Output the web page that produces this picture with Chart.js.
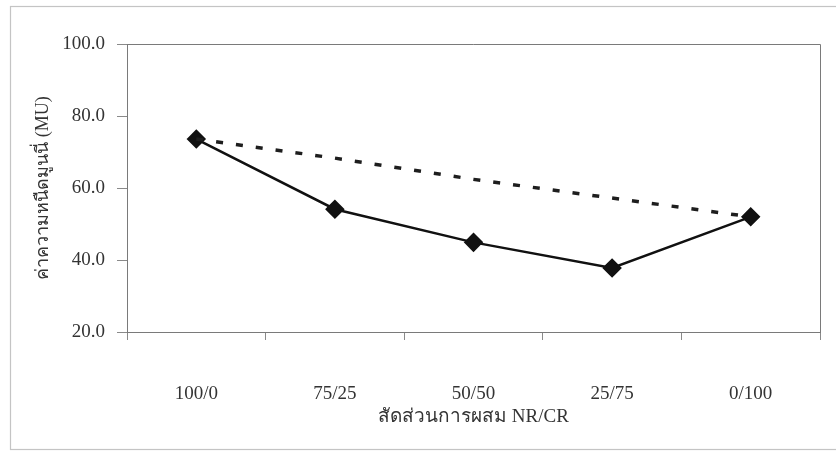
<!DOCTYPE html>
<html>
<head>
<meta charset="utf-8">
<script src="https://cdn.jsdelivr.net/npm/chart.js@4.4.1/dist/chart.umd.min.js"></script>
<style>
  html, body { margin: 0; padding: 0; background: #fff; }
  #wrap { width: 836px; height: 452px; }
</style>
</head>
<body>
<div id="wrap"><canvas id="c" width="836" height="452"></canvas></div>
<script>
// Blend ratios of NR/CR and Mooney viscosity (MU)
const ratios = ['100/0', '75/25', '50/50', '25/75', '0/100'];
const measured = [73.6, 54.1, 44.9, 37.8, 52.0];
const additive = [73.6, 68.3, 62.4, 57.2, 52.0];
const yTicks = [20, 40, 60, 80, 100];

const serif = "'Liberation Serif', 'Times New Roman', serif";

// Page frame plus the top and right edges of the plot box
const framePlugin = {
  id: 'frame',
  beforeDraw(chart) {
    const ctx = chart.ctx;
    ctx.save();
    ctx.fillStyle = '#fff';
    ctx.fillRect(0, 0, chart.width, chart.height);
    ctx.strokeStyle = '#c4c4c4';
    ctx.lineWidth = 1.2;
    ctx.strokeRect(10.5, 6.5, 840, 443);
    ctx.restore();
  },
  beforeDatasetsDraw(chart) {
    const { ctx, chartArea: a } = chart;
    ctx.save();
    ctx.strokeStyle = '#7a7a7a';
    ctx.lineWidth = 1;
    ctx.beginPath();
    ctx.moveTo(a.left, a.top + 0.5);
    ctx.lineTo(a.right + 0.5, a.top + 0.5);
    ctx.lineTo(a.right + 0.5, a.bottom);
    ctx.stroke();
    ctx.restore();
  }
};

new Chart(document.getElementById('c'), {
  type: 'line',
  data: {
    labels: ratios,
    datasets: [
      {
        label: 'additive',
        data: additive,
        borderColor: '#1e1e1e',
        borderWidth: 3.5,
        borderDash: [7, 13],
        pointRadius: 0,
        tension: 0,
        fill: false
      },
      {
        label: 'measured',
        data: measured,
        borderColor: '#111',
        borderWidth: 2.5,
        pointStyle: 'rectRot',
        pointRadius: 8,
        pointBackgroundColor: '#111',
        pointBorderColor: '#111',
        tension: 0,
        fill: false
      }
    ]
  },
  options: {
    responsive: false,
    animation: false,
    layout: { padding: { left: 10, right: 16, top: 44, bottom: 10 } },
    plugins: {
      legend: { display: false },
      tooltip: { enabled: false }
    },
    scales: {
      x: {
        offset: true,
        grid: { offset: true, drawOnChartArea: false, drawTicks: true, tickLength: 8, color: '#8a8a8a' },
        border: { color: '#7a7a7a', width: 1 },
        ticks: { font: { family: serif, size: 19 }, color: '#333', padding: 43, maxRotation: 0, minRotation: 0, autoSkip: false },
        title: {
          display: true,
          text: 'สัดส่วนการผสม NR/CR',
          font: { family: serif, size: 19 },
          color: '#333',
          padding: { top: 0, bottom: 14 }
        },
        afterFit(s) { s.height = 110; }
      },
      y: {
        min: 20,
        max: 100,
        afterBuildTicks(s) { s.ticks = yTicks.map(v => ({ value: v })); },
        grid: { drawOnChartArea: false, drawTicks: true, tickLength: 10, color: '#8a8a8a' },
        border: { color: '#7a7a7a', width: 1 },
        ticks: {
          font: { family: serif, size: 19 },
          color: '#333',
          padding: 12,
          callback: v => Number(v).toFixed(1)
        },
        title: {
          display: true,
          text: 'ค่าความหนืดมูนนี่ (MU)',
          font: { family: serif, size: 18 },
          color: '#333',
          padding: { top: 22, bottom: 0 }
        },
        afterFit(s) { s.width = 117; }
      }
    }
  },
  plugins: [framePlugin]
});
</script>
</body>
</html>
